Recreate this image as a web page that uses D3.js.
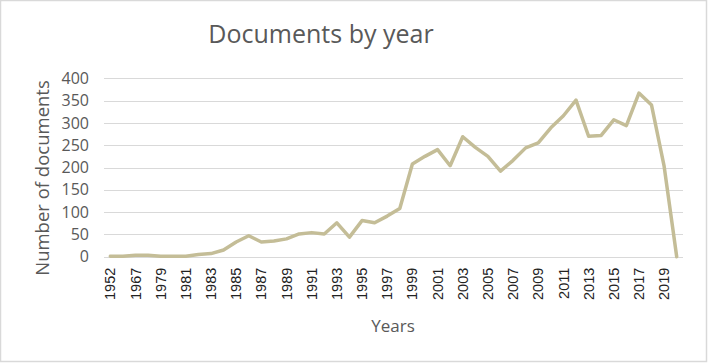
<!DOCTYPE html>
<html>
<head>
<meta charset="utf-8">
<script src="https://cdn.jsdelivr.net/npm/d3@7.9.0/dist/d3.min.js"></script>
<style>
  body { margin: 0; background: #fff; }
  svg { display: block; }
</style>
</head>
<body>
<svg id="chart" width="708" height="363"></svg>
<script>
// years on the category axis (only every other one is labelled)
const years = ['1952', '1962', '1967', '1975', '1979', '1980', '1981', '1982', '1983', '1984',
  '1985', '1986', '1987', '1988', '1989', '1990', '1991', '1992', '1993', '1994',
  '1995', '1996', '1997', '1998', '1999', '2000', '2001', '2002', '2003', '2004',
  '2005', '2006', '2007', '2008', '2009', '2010', '2011', '2012', '2013', '2014',
  '2015', '2016', '2017', '2018', '2019', '2020'];

// documents per year
const docs = [1, 1, 3, 3, 1, 1, 1, 5, 7, 15,
  33, 47, 33, 35, 40, 51, 54, 51, 76, 44,
  81, 76, 91, 108, 208, 225, 240, 204, 269, 245,
  225, 192, 216, 244, 255, 289, 316, 351, 270, 272,
  307, 294, 367, 340, 203, 0];

const yTicks = [0, 50, 100, 150, 200, 250, 300, 350, 400];

const svg = d3.select('#chart');
const W = 708, H = 363;

// outer frame
svg.append('rect')
  .attr('x', 0.5).attr('y', 0.5)
  .attr('width', W - 2).attr('height', H - 2)
  .attr('fill', '#fff')
  .attr('stroke', '#d9d9d9')
  .attr('stroke-width', 1.5);

const plotLeft = 104, plotRight = 683, plotTop = 78.3, plotBottom = 256.7;

const x = d3.scaleBand().domain(years).range([plotLeft, plotRight]);
const y = d3.scaleLinear().domain([0, 400]).range([plotBottom, plotTop]);

// gridlines
svg.append('g')
  .selectAll('line')
  .data(yTicks)
  .join('line')
  .attr('x1', plotLeft).attr('x2', plotRight)
  .attr('y1', d => Math.round(y(d)) + 0.5)
  .attr('y2', d => Math.round(y(d)) + 0.5)
  .attr('stroke', '#d9d9d9')
  .attr('stroke-width', 1);

// y axis labels
const yAxis = svg.append('g')
  .attr('transform', `translate(${plotLeft - 15},0)`)
  .call(d3.axisLeft(y).tickValues(yTicks).tickSize(0).tickPadding(0));
yAxis.select('.domain').remove();
yAxis.selectAll('text')
  .attr('fill', '#595959')
  .style('font-family', '"Open Sans", sans-serif')
  .style('font-size', '16px');

// x axis labels, every other year, rotated
const xAxis = svg.append('g')
  .attr('transform', `translate(0,${plotBottom})`)
  .call(d3.axisBottom(x).tickValues(years.filter((d, i) => i % 2 === 0)).tickSize(0));
xAxis.select('.domain').remove();
xAxis.selectAll('text')
  .attr('transform', 'rotate(-90)')
  .attr('x', -11).attr('y', 0).attr('dy', '0.35em')
  .attr('text-anchor', 'end')
  .attr('fill', '#222')
  .style('font-family', '"Liberation Sans", Arial, sans-serif')
  .style('font-size', '14.5px');

// the line
const line = d3.line()
  .x((d, i) => x(years[i]) + x.bandwidth() / 2)
  .y(d => y(d));

svg.append('path')
  .datum(docs)
  .attr('d', line)
  .attr('fill', 'none')
  .attr('stroke', '#c4bd97')
  .attr('stroke-width', 3.5)
  .attr('stroke-linejoin', 'round')
  .attr('stroke-linecap', 'round');

// titles
svg.append('text')
  .attr('x', 321).attr('y', 43)
  .attr('text-anchor', 'middle')
  .attr('fill', '#595959')
  .style('font-family', '"Open Sans", sans-serif')
  .style('font-size', '25px')
  .text('Documents by year');

svg.append('text')
  .attr('transform', `translate(49,178) rotate(-90)`)
  .attr('text-anchor', 'middle')
  .attr('fill', '#595959')
  .style('font-family', '"Open Sans", sans-serif')
  .style('font-size', '18.5px')
  .text('Number of documents');

svg.append('text')
  .attr('x', 393).attr('y', 332)
  .attr('text-anchor', 'middle')
  .attr('fill', '#595959')
  .style('font-family', '"Open Sans", sans-serif')
  .style('font-size', '17px')
  .text('Years');
</script>
</body>
</html>
